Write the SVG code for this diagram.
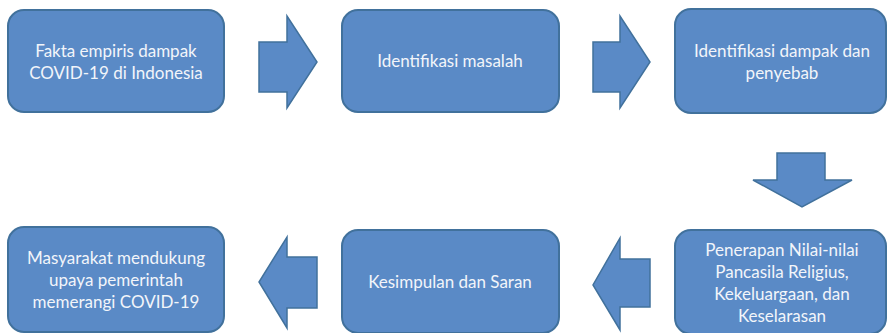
<svg xmlns="http://www.w3.org/2000/svg" width="887" height="333" viewBox="0 0 887 333">
<style>
.box{fill:#5A8AC6;stroke:#41719C;stroke-width:2}
.arr{fill:#5A8AC6;stroke:#41719C;stroke-width:1.5;stroke-linejoin:miter}
text{font-family:Lato,"Liberation Sans",sans-serif;font-size:17px;fill:#F2F5FA;text-anchor:middle}
</style>
<rect width="887" height="333" fill="#FFFFFF"/>
<g id="n1"><rect class="box" x="8" y="10" width="216" height="102" rx="16"/>
<text x="116" y="57">Fakta empiris dampak</text><text x="116" y="79">COVID-19 di Indonesia</text></g>
<g id="n2"><rect class="box" x="342" y="10" width="217" height="102" rx="16"/>
<text x="450" y="67">Identifikasi masalah</text></g>
<g id="n3"><rect class="box" x="675" y="9" width="211" height="104" rx="16"/>
<text x="782" y="57">Identifikasi dampak dan</text><text x="782" y="79">penyebab</text></g>
<g id="n4"><rect class="box" x="675" y="230" width="211" height="104" rx="16"/>
<text x="782" y="256">Penerapan Nilai-nilai</text><text x="782" y="278">Pancasila Religius,</text><text x="782" y="300">Kekeluargaan, dan</text><text x="782" y="322">Keselarasan</text></g>
<g id="n5"><rect class="box" x="342" y="230" width="217" height="103" rx="16"/>
<text x="450" y="288">Kesimpulan dan Saran</text></g>
<g id="n6"><rect class="box" x="8" y="227" width="216" height="105" rx="16"/>
<text x="116" y="264">Masyarakat mendukung</text><text x="116" y="286">upaya pemerintah</text><text x="116" y="308">memerangi COVID-19</text></g>
<g id="connectors">
<polygon class="arr" points="259,42 287,42 287,16 317,62 287,108 287,92 259,92"/>
<polygon class="arr" points="593,42 620,42 620,16 650,62 620,108 620,92 593,92"/>
<polygon class="arr" points="777,153 825,153 825,180 852,180 802,207 753,180 777,180"/>
<polygon class="arr" points="650,259 620,259 620,238 593,285 620,330 620,307 650,307"/>
<polygon class="arr" points="317,257 287,257 287,237 259,282 287,328 287,308 317,308"/>
</g>
</svg>
